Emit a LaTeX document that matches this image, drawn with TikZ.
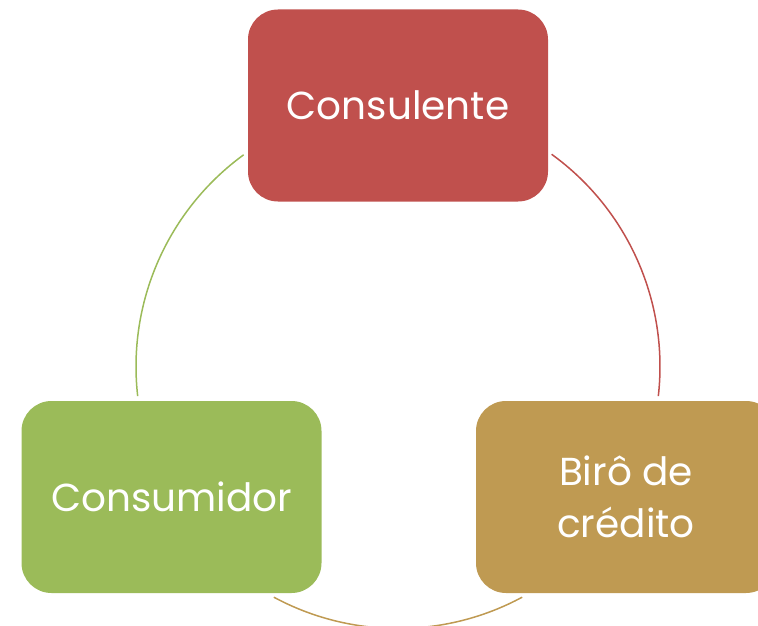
\documentclass[tikz,border=0pt]{standalone}
\usepackage{fontspec}
\setmainfont{Poppins}
\definecolor{cred}{HTML}{C0504D}
\definecolor{cgreen}{HTML}{9BBB59}
\definecolor{ctan}{HTML}{BF9A52}
\begin{document}
\begin{tikzpicture}[x=1pt,y=-1pt,
  cyclebox/.style={rounded corners=30pt,minimum width=300pt,minimum height=192pt,inner sep=0pt,
    text=white,align=center,font=\fontsize{39}{52}\selectfont},
  cyclearc/.style={line width=1.5pt}]
\useasboundingbox (0,0) rectangle (758,626);
\begin{scope}
\clip (0,0) rectangle (758,626);
\coordinate (ctr) at (398,366.5);
\node[cyclebox,fill=cred] (cons) at (398,105.5) {Consulente};
\node[cyclebox,fill=ctan] (biro) at (626,497) {Birô de\\crédito};
\node[cyclebox,fill=cgreen] (cmd) at (171.5,497) {Consumidor};
\draw[cyclearc,cred] ([shift={(-54.1:262)}]ctr) arc[start angle=-54.1,end angle=6.5,radius=262];
\draw[cyclearc,ctan] ([shift={(61.7:262)}]ctr) arc[start angle=61.7,end angle=118.3,radius=262];
\draw[cyclearc,cgreen] ([shift={(173.5:262)}]ctr) arc[start angle=173.5,end angle=233.9,radius=262];
\end{scope}
\end{tikzpicture}
\end{document}
